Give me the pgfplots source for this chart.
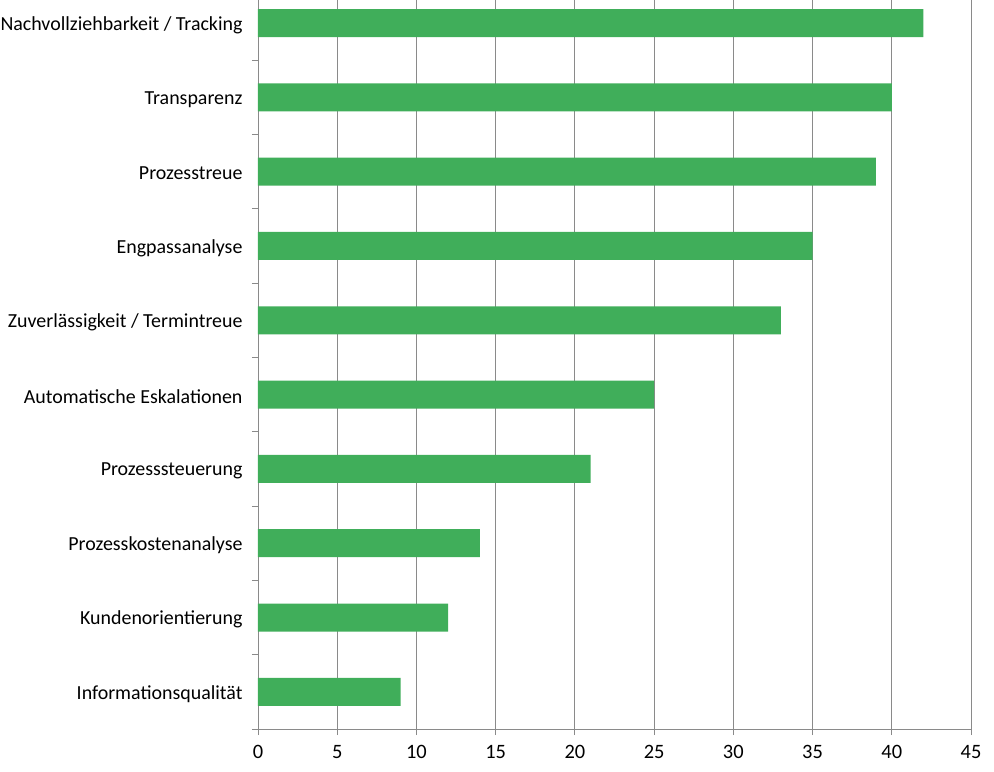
\documentclass[border=0pt]{standalone}
\usepackage{pgfplots}
\pgfplotsset{compat=1.18}
\usepackage{fontspec}
\setmainfont{Carlito}
\definecolor{bargreen}{HTML}{40AE5A}
\definecolor{gridgray}{HTML}{8A8A8A}
\begin{document}
\begin{tikzpicture}
\begin{axis}[
  scale only axis,
  width=713bp, height=729bp,
  at={(0,0)}, anchor=south west,
  xbar, bar width=28bp,
  xmin=0, xmax=45,
  ymin=-0.5, ymax=9.31,
  xtick={0,5,...,45},
  ytick={-0.5,0.5,1.5,2.5,3.5,4.5,5.5,6.5,7.5,8.5},
  yticklabels={},
  extra y ticks={0,...,9},
  extra y tick labels={Informationsqualität,Kundenorientierung,Prozesskostenanalyse,Prozesssteuerung,Automatische Eskalationen,Zuverlässigkeit / Termintreue,Engpassanalyse,Prozesstreue,Transparenz,Nachvollziehbarkeit / Tracking},
  extra y tick style={major tick length=0pt, grid=none, yticklabel style={xshift=-12bp, yshift=-2bp}},
  major tick length=6bp,
  tick style={draw=gridgray, line width=0.8bp},
  tick align=outside,
  xtick pos=bottom, ytick pos=left,
  xmajorgrids, ymajorgrids=false, major grid style={gridgray, line width=0.8bp},
  axis x line*=bottom, axis y line*=left,
  axis line style={gridgray, line width=0.8bp, -},
  tick label style={font=\fontsize{20}{24}\selectfont, text=black},
  xticklabel style={yshift=-7bp, font=\fontsize{20.5}{24}\selectfont},
  /pgf/number format/assume math mode=true,
  clip=false,
]
\addplot[fill=bargreen, draw=none] coordinates {
  (9,0) (12,1) (14,2) (21,3) (25,4) (33,5) (35,6) (39,7) (40,8) (42,9)
};
\end{axis}
\pgfresetboundingbox
\path[use as bounding box] (-258bp,-43bp) rectangle (736bp,729bp);
\end{tikzpicture}
\end{document}
